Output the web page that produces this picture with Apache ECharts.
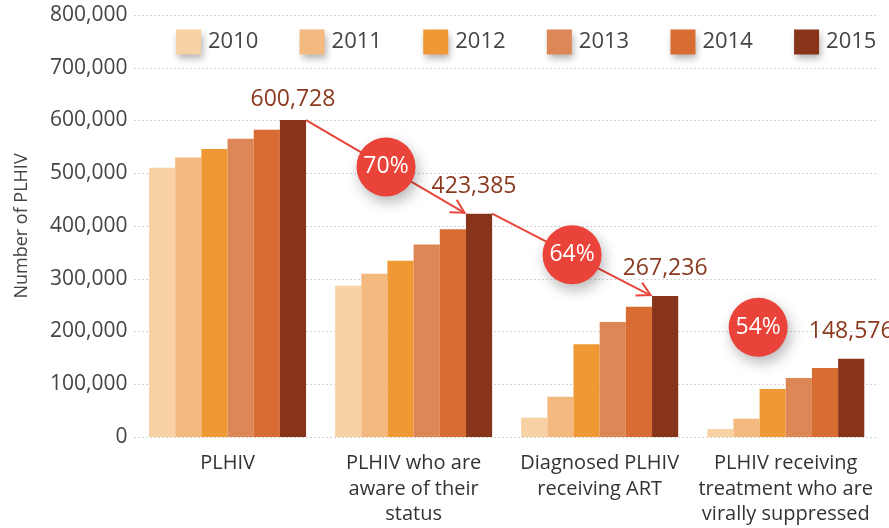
<!DOCTYPE html>
<html>
<head>
<meta charset="utf-8">
<script src="https://cdn.jsdelivr.net/npm/echarts@6/dist/echarts.min.js"></script>
<style>
html,body{margin:0;padding:0;background:#fff;}
#chart{width:889px;height:528px;}
</style>
</head>
<body>
<div id="chart"></div>
<script>
// ---- data ----
const categories = [
  'PLHIV',
  'PLHIV who are\naware of their\nstatus',
  'Diagnosed PLHIV\nreceiving ART',
  'PLHIV receiving\ntreatment who are\nvirally suppressed'
];
const years = ['2010', '2011', '2012', '2013', '2014', '2015'];
const s2010 = [510500, 286800, 36600, 15200];
const s2011 = [530000, 309600, 76400, 34700];
const s2012 = [546000, 334000, 175700, 91000];
const s2013 = [565500, 365000, 218000, 111800];
const s2014 = [582600, 393700, 247000, 130800];
const s2015 = [600728, 423385, 267236, 148576];
const conversionPct = ['70%', '64%', '54%'];
const showArrow = [true, true, false];
const yMin = 0, yMax = 800000, yStep = 100000;

// ---- styles ----
const palette = ['#F8D1A5', '#F4B97F', '#EF9834', '#DD8757', '#D86C33', '#87341B'];
const FONT = '"Open Sans", "Noto Sans", sans-serif';
const CAT_GAP = 0.156;

const allSeries = [s2010, s2011, s2012, s2013, s2014, s2015];

const barSeries = allSeries.map((vals, k) => {
  const s = {
    name: years[k],
    type: 'bar',
    barGap: '0%',
    barCategoryGap: (CAT_GAP * 100) + '%',
    itemStyle: { color: palette[k] },
    data: vals.slice(),
    z: 2
  };
  if (k === allSeries.length - 1) {
    s.data = vals.map((v, i) => ({
      value: v,
      label: { distance: i === 0 ? 9 : 16, offset: i === 1 ? [-5, 0] : [0, 0] }
    }));
    s.label = {
      show: true,
      position: 'top',
      formatter: p => Number(p.value).toLocaleString('en-US'),
      color: '#8B3A1F',
      fontSize: 23,
      fontFamily: FONT
    };
  }
  return s;
});

const connectorData = conversionPct.map((p, i) => [i, s2015[i], i + 1, s2015[i + 1]]);

const connectorSeries = {
  type: 'custom',
  coordinateSystem: 'cartesian2d',
  clip: false,
  silent: true,
  z: 10,
  encode: { x: [0, 2], y: [1, 3] },
  data: connectorData,
  renderItem: function (params, api) {
    const i = params.dataIndex;
    const bandW = api.size([1, 0])[0];
    const groupW = bandW * (1 - CAT_GAP);
    const barW = groupW / years.length;
    const p0 = api.coord([api.value(0), api.value(1)]);
    const p1 = api.coord([api.value(2), api.value(3)]);
    const start = [p0[0] + groupW / 2, p0[1]];
    const end = [p1[0] - groupW / 2 + (years.length - 1) * barW, p1[1]];
    const mid = [(start[0] + end[0]) / 2, (start[1] + end[1]) / 2];
    const red = '#E8463A';
    const children = [];
    if (showArrow[i]) {
      children.push({
        type: 'line',
        shape: { x1: start[0], y1: start[1], x2: end[0] - 1, y2: end[1] - 0.5 },
        style: { stroke: red, lineWidth: 2 }
      });
      const ang = Math.atan2(end[1] - start[1], end[0] - start[0]);
      const L = 15, a = 0.5;
      const tip = [end[0] - 1.5, end[1] - 1];
      children.push({
        type: 'polyline',
        shape: {
          points: [
            [tip[0] - L * Math.cos(ang - a), tip[1] - L * Math.sin(ang - a)],
            tip,
            [tip[0] - L * Math.cos(ang + a), tip[1] - L * Math.sin(ang + a)]
          ]
        },
        style: { stroke: red, lineWidth: 2, fill: null }
      });
    }
    children.push({
      type: 'circle',
      shape: { cx: mid[0], cy: mid[1], r: 29.5 },
      style: {
        fill: '#E9433A',
        shadowBlur: 14,
        shadowColor: 'rgba(0,0,0,0.28)',
        shadowOffsetX: 3,
        shadowOffsetY: 6
      }
    });
    children.push({
      type: 'text',
      style: {
        text: conversionPct[i],
        x: mid[0],
        y: mid[1],
        align: 'center',
        verticalAlign: 'middle',
        fill: '#ffffff',
        fontSize: 23,
        fontFamily: FONT
      }
    });
    return { type: 'group', children: children };
  }
};

const chart = echarts.init(document.getElementById('chart'), null, { renderer: 'canvas' });
chart.setOption({
  backgroundColor: '#ffffff',
  animation: false,
  textStyle: { fontFamily: FONT },
  grid: { left: 134.5, right: 10.2, top: 15, bottom: 91, containLabel: false },
  legend: {
    data: years,
    icon: 'rect',
    left: 176,
    top: 29.5,
    padding: 0,
    itemWidth: 25,
    itemHeight: 25,
    itemGap: 41.3,
    itemStyle: {
      shadowBlur: 7,
      shadowColor: 'rgba(0,0,0,0.3)',
      shadowOffsetX: 2,
      shadowOffsetY: 4
    },
    textStyle: {
      fontSize: 22,
      color: '#444444',
      fontFamily: FONT,
      padding: [2, 0, 0, 2]
    }
  },
  xAxis: {
    type: 'category',
    data: categories,
    axisLine: { show: false },
    axisTick: { show: false },
    axisLabel: {
      interval: 0,
      margin: 14,
      fontSize: 20,
      lineHeight: 25.5,
      color: '#333333',
      fontFamily: FONT
    }
  },
  yAxis: {
    type: 'value',
    min: yMin,
    max: yMax,
    interval: yStep,
    name: 'Number of PLHIV',
    nameLocation: 'middle',
    nameRotate: 90,
    nameGap: 104,
    nameTextStyle: { fontSize: 18, color: '#444444', fontFamily: FONT },
    axisLine: { show: false },
    axisTick: { show: false },
    axisLabel: {
      margin: 7,
      fontSize: 21,
      color: '#444444',
      fontFamily: FONT,
      formatter: v => Number(v).toLocaleString('en-US')
    },
    splitLine: {
      show: true,
      lineStyle: { color: '#BBBBBB', width: 1.2, type: [1.2, 2.8] }
    }
  },
  series: barSeries.concat([connectorSeries])
});
</script>
</body>
</html>
